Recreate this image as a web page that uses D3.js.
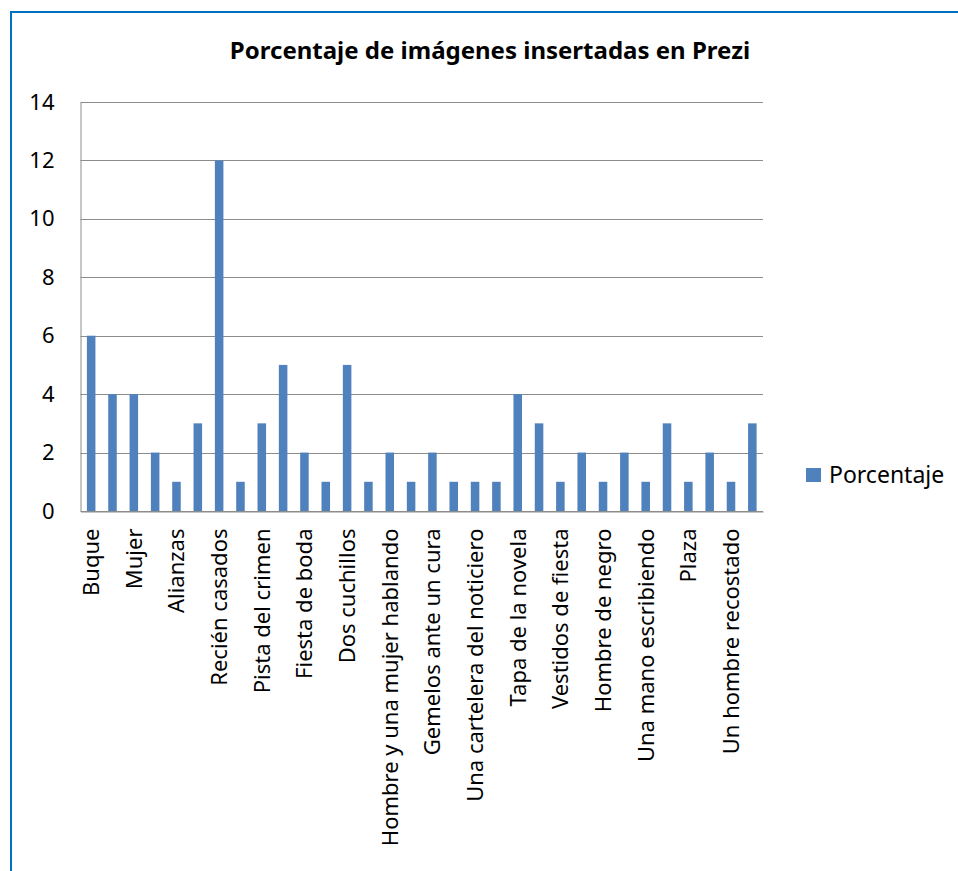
<!DOCTYPE html>
<html>
<head>
<meta charset="utf-8">
<script src="https://cdn.jsdelivr.net/npm/d3@7"></script>
<style>
  body { margin: 0; background: #fff; }
  svg { display: block; font-family: 'Noto Sans', sans-serif; }
  .grid line { stroke: #8c8c8c; }
</style>
</head>
<body>
<svg width="958" height="871"></svg>
<script>
// every other category label is hidden in the original chart
const labels = [
  'Buque', '', 'Mujer', '', 'Alianzas', '', 'Recién casados', '',
  'Pista del crimen', '', 'Fiesta de boda', '', 'Dos cuchillos', '',
  'Hombre y una mujer hablando', '', 'Gemelos ante un cura', '',
  'Una cartelera del noticiero', '', 'Tapa de la novela', '',
  'Vestidos de fiesta', '', 'Hombre de negro', '', 'Una mano escribiendo', '',
  'Plaza', '', 'Un hombre recostado', ''
];
const values = [6, 4, 4, 2, 1, 3, 12, 1, 3, 5, 2, 1, 5, 1, 2, 1,
                2, 1, 1, 1, 4, 3, 1, 2, 1, 2, 1, 3, 1, 2, 1, 3];
const yTicks = [0, 2, 4, 6, 8, 10, 12, 14];
const seriesName = 'Porcentaje';
const title = 'Porcentaje de imágenes insertadas en Prezi';

const svg = d3.select('svg');
const plotLeft = 80.5, plotRight = 763, plotTop = 102, plotBottom = 511;

// outer frame (clipped on right and bottom like the original)
svg.append('rect')
  .attr('x', 11).attr('y', 12)
  .attr('width', 980).attr('height', 900)
  .attr('fill', 'none')
  .attr('stroke', '#0070C0')
  .attr('stroke-width', 2);

svg.append('text')
  .attr('x', 490).attr('y', 59)
  .attr('text-anchor', 'middle')
  .attr('font-weight', 'bold')
  .attr('font-size', 24)
  .attr('fill', '#000')
  .text(title);

const x = d3.scaleBand()
  .domain(d3.range(values.length))
  .range([plotLeft, plotRight])
  .paddingInner(0.6)
  .paddingOuter(0.3);

const y = d3.scaleLinear()
  .domain([0, 14])
  .range([plotBottom, plotTop]);

// gridlines
svg.append('g')
  .attr('class', 'grid')
  .selectAll('line')
  .data(yTicks)
  .enter().append('line')
    .attr('x1', plotLeft).attr('x2', plotRight)
    .attr('y1', d => Math.round(y(d)) + 0.5)
    .attr('y2', d => Math.round(y(d)) + 0.5);

// y axis labels
const yAxis = svg.append('g')
  .attr('transform', `translate(${plotLeft},0)`)
  .call(d3.axisLeft(y).tickValues(yTicks).tickSize(0));
yAxis.select('.domain').attr('stroke', '#8c8c8c');
yAxis.selectAll('text')
  .attr('x', -26)
  .attr('font-size', 22)
  .attr('font-family', "'Noto Sans', sans-serif")
  .attr('fill', '#000');

// bars
svg.append('g')
  .selectAll('rect')
  .data(values)
  .enter().append('rect')
    .attr('x', (d, i) => x(i))
    .attr('width', x.bandwidth())
    .attr('y', d => y(d))
    .attr('height', d => y(0) - y(d))
    .attr('fill', '#4F81BD');

// x axis with rotated labels
const xAxis = svg.append('g')
  .attr('transform', `translate(0,${Math.round(plotBottom) + 0.5})`)
  .call(d3.axisBottom(x).tickSize(0).tickFormat(i => labels[i]));
xAxis.select('.domain').attr('stroke', '#8c8c8c');
xAxis.selectAll('text')
  .attr('font-size', 22)
  .attr('font-family', "'Noto Sans', sans-serif")
  .attr('fill', '#000')
  .attr('text-anchor', 'end')
  .attr('transform', 'rotate(-90)')
  .attr('x', -17)
  .attr('y', 0)
  .attr('dy', '0.36em');

// legend
const legend = svg.append('g').attr('transform', 'translate(806,468)');
legend.append('rect')
  .attr('width', 15).attr('height', 14)
  .attr('fill', '#4F81BD');
legend.append('text')
  .attr('x', 23).attr('y', 7)
  .attr('dy', '0.35em')
  .attr('font-size', 23)
  .attr('fill', '#000')
  .text(seriesName);
</script>
</body>
</html>
